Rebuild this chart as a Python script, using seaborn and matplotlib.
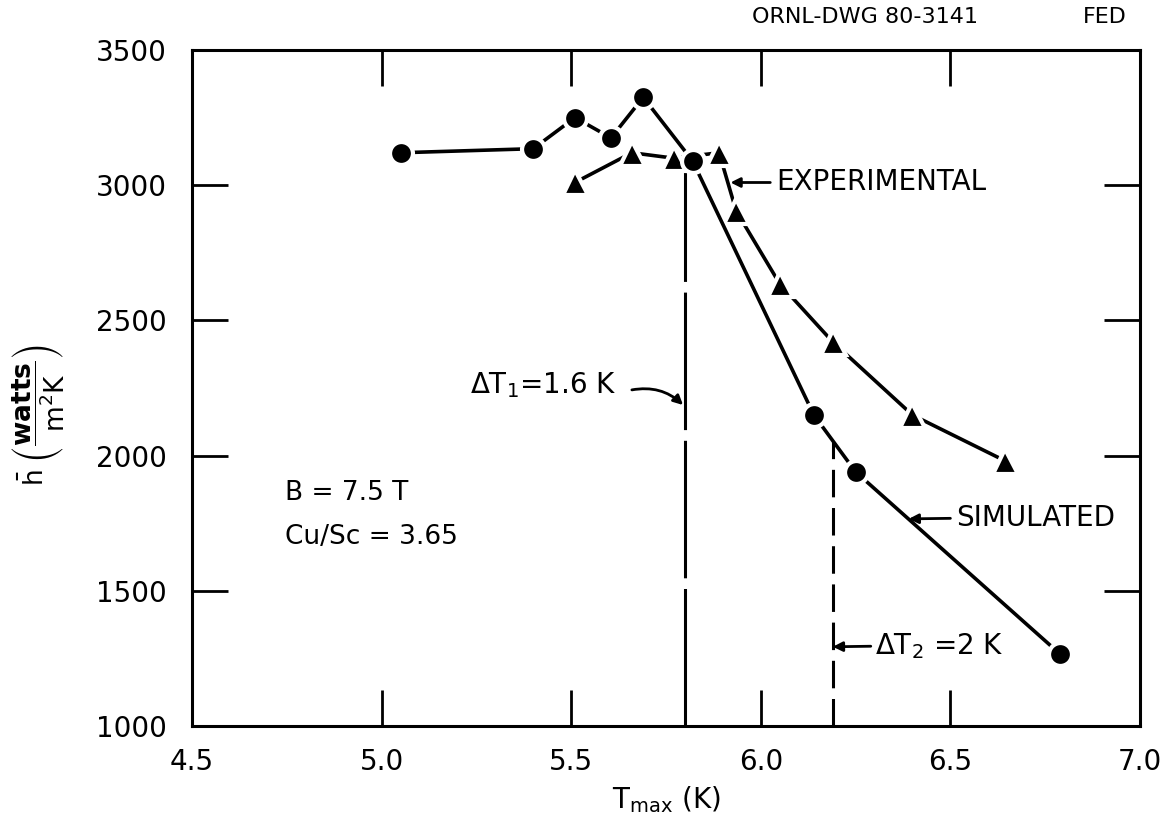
import matplotlib
matplotlib.use('Agg')
import matplotlib.pyplot as plt
import numpy as np
import pandas as pd
import seaborn as sns

# ---- data ----
sim_T = [5.05, 5.40, 5.51, 5.605, 5.69, 5.82, 6.14, 6.25, 6.79]
sim_h = [3120, 3135, 3250, 3175, 3325, 3090, 2150, 1940, 1265]
exp_T = [5.51, 5.66, 5.77, 5.89, 5.935, 6.05, 6.19, 6.40, 6.645]
exp_h = [3010, 3120, 3100, 3120, 2905, 2635, 2420, 2150, 1980]

dT1_x = 5.80
dT1_top = 3085
dT2_x = 6.19
dT2_top = 2055

x_ticks = [4.5, 5.0, 5.5, 6.0, 6.5, 7.0]
x_ticklabels = ['4.5', '5.0', '5.5', '6.0', '6.5', '7.0']
y_ticks = [1000, 1500, 2000, 2500, 3000, 3500]
y_ticklabels = ['1000', '1500', '2000', '2500', '3000', '3500']

sns.set_theme(style='ticks')
plt.rcParams['font.family'] = ['DejaVu Sans']
plt.rcParams['mathtext.fontset'] = 'dejavusans'
plt.rcParams['text.color'] = 'black'
plt.rcParams['axes.labelcolor'] = 'black'

W, H = 1172, 817
fig = plt.figure(figsize=(W / 100, H / 100), dpi=100)
ax = fig.add_axes([192 / W, 1 - 726 / H, 948 / W, 676 / H])

df_sim = pd.DataFrame({'T': sim_T, 'h': sim_h})
df_exp = pd.DataFrame({'T': exp_T, 'h': exp_h})

# dashed guide lines
ax.plot([dT1_x, dT1_x], [1000, dT1_top], color='black', lw=2.2,
        dashes=(45, 3.5), zorder=1)
ax.plot([dT2_x, dT2_x], [1000, dT2_top], color='black', lw=2.2,
        dashes=(9, 3.5), zorder=1)

sns.lineplot(data=df_sim, x='T', y='h', sort=False, estimator=None,
             color='black', lw=2.6, marker='o', markersize=16.5,
             mec='white', mew=3, mfc='black', ax=ax, zorder=3)
sns.lineplot(data=df_exp, x='T', y='h', sort=False, estimator=None,
             color='black', lw=2.6, marker='^', markersize=18,
             mec='white', mew=3, mfc='black', ax=ax, zorder=2)

ax.set_xlim(4.5, 7.0)
ax.set_ylim(1000, 3500)
ax.set_xticks(x_ticks)
ax.set_xticklabels(x_ticklabels)
ax.set_yticks(y_ticks)
ax.set_yticklabels(y_ticklabels)
ax.tick_params(axis='both', direction='in', length=26, width=2,
               top=True, right=True, labelsize=20, colors='black')
ax.tick_params(axis='y', pad=18)
ax.tick_params(axis='x', pad=16)
for s in ax.spines.values():
    s.set_linewidth(2.2)
    s.set_color('black')
    s.set_visible(True)

ax.set_xlabel(r'$\mathrm{T_{max}}$ (K)', fontsize=20, labelpad=6)
ax.set_ylabel(r'$\bar{\mathrm{h}}\;\left(\dfrac{\mathbf{watts}}{\mathrm{m^2K}}\right)$',
              fontsize=19)
ax.yaxis.set_label_coords(-0.133, 0.46)

arrow = dict(arrowstyle='-|>', color='black', lw=2, mutation_scale=14,
             shrinkA=0, shrinkB=0)

fs = 20
ax.text(6.04, 3010, 'EXPERIMENTAL', fontsize=fs, va='center', ha='left')
ax.annotate('', xy=(5.92, 3010), xytext=(6.025, 3010), arrowprops=arrow)

ax.text(6.515, 1769, 'SIMULATED', fontsize=fs, va='center', ha='left')
ax.annotate('', xy=(6.39, 1766), xytext=(6.50, 1768), arrowprops=arrow)

ax.text(6.30, 1296, r'$\Delta\mathrm{T}_2$ =2 K', fontsize=fs, va='center', ha='left')
ax.annotate('', xy=(6.19, 1293), xytext=(6.29, 1295), arrowprops=arrow)

ax.text(5.233, 2261, r'$\Delta\mathrm{T}_1$=1.6 K', fontsize=fs, va='center', ha='left')
ax.annotate('', xy=(5.795, 2187), xytext=(5.66, 2243),
            arrowprops=dict(arrow, connectionstyle='arc3,rad=-0.25'))

ax.text(4.745, 1862, 'B = 7.5 T', fontsize=19, va='center', ha='left')
ax.text(4.745, 1699, 'Cu/Sc = 3.65', fontsize=19, va='center', ha='left')

fig.text(752 / W, 1 - 17 / H, 'ORNL-DWG 80-3141', fontsize=16, va='center', ha='left')
fig.text(1083 / W, 1 - 17 / H, 'FED', fontsize=16, va='center', ha='left')

fig.savefig('out.png', dpi=100, facecolor='white')
